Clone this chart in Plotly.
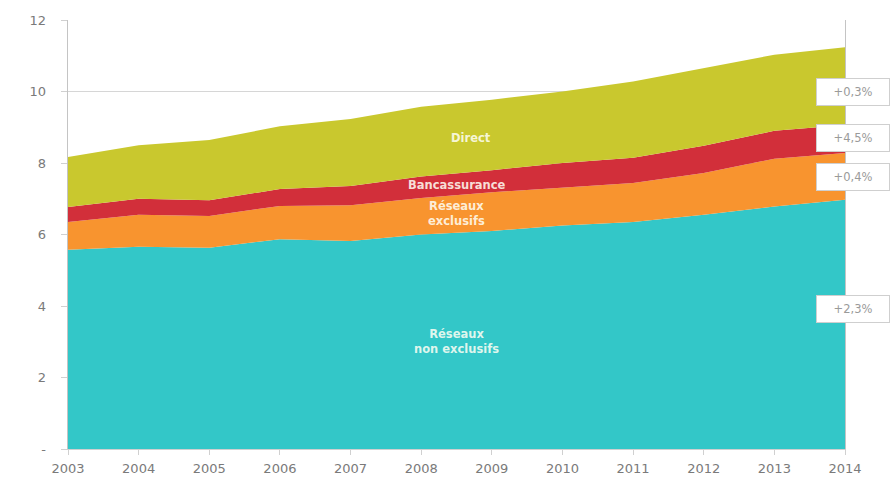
import plotly.graph_objects as go

# Years and stacked series (in billions)
years = [2003, 2004, 2005, 2006, 2007, 2008, 2009, 2010, 2011, 2012, 2013, 2014]
reseaux_non_exclusifs = [5.57, 5.66, 5.63, 5.87, 5.82, 6.00, 6.10, 6.25, 6.35, 6.55, 6.78, 6.97]
reseaux_exclusifs = [0.78, 0.89, 0.89, 0.93, 1.00, 1.02, 1.08, 1.07, 1.09, 1.17, 1.34, 1.31]
bancassurance = [0.42, 0.45, 0.44, 0.47, 0.54, 0.60, 0.62, 0.68, 0.71, 0.76, 0.78, 0.78]
direct = [1.40, 1.50, 1.68, 1.76, 1.87, 1.95, 1.97, 2.00, 2.13, 2.17, 2.13, 2.18]

series_names = ["Réseaux non exclusifs", "Réseaux exclusifs", "Bancassurance", "Direct"]
series_values = [reseaux_non_exclusifs, reseaux_exclusifs, bancassurance, direct]
series_colors = ["#33C7C8", "#F8942F", "#D22F3A", "#C9C82E"]

# In-area labels (text, year, value)
area_labels = [
    ("Direct", 2008.7, 8.7),
    ("Bancassurance", 2008.5, 7.38),
    ("Réseaux<br>exclusifs", 2008.5, 6.6),
    ("Réseaux<br>non exclusifs", 2008.5, 3.0),
]

# Growth rates shown at the right edge (text, value)
growth_labels = [("+0,3%", 10.0), ("+4,5%", 8.7), ("+0,4%", 7.6), ("+2,3%", 3.92)]

y_ticks = [0, 2, 4, 6, 8, 10, 12]
y_ticklabels = ["-", "2", "4", "6", "8", "10", "12"]

fig = go.Figure()
for name, vals, col in zip(series_names, series_values, series_colors):
    fig.add_trace(go.Scatter(
        x=years, y=vals, name=name, mode="lines",
        stackgroup="one", line=dict(width=0, color=col),
        fillcolor=col, hoverinfo="x+y+name",
    ))

for text, x, y in area_labels:
    fig.add_annotation(
        x=x, y=y, xref="x", yref="y", text=f"<b>{text}</b>",
        showarrow=False, font=dict(family="DejaVu Sans", size=11.5,
                                   color="rgba(255,255,245,0.85)"),
    )

for text, y in growth_labels:
    fig.add_annotation(
        x=0.963, y=y, xref="paper", yref="y", text=text,
        xanchor="left", yanchor="middle", showarrow=False,
        font=dict(family="DejaVu Sans", size=11.5, color="#9a9a9a"),
        bgcolor="white", bordercolor="#cfcfcf", borderwidth=1,
        borderpad=6, width=60, align="center",
    )

# pad the y labels away from the axis with non-breaking spaces
y_pad = "\u00a0" * 3

fig.update_layout(
    width=896, height=479,
    margin=dict(l=68, r=51, t=20, b=30),
    paper_bgcolor="white", plot_bgcolor="white",
    showlegend=False,
    font=dict(family="DejaVu Sans", size=13, color="#7a7a7a"),
    xaxis=dict(
        range=[2003, 2014], tickvals=years, ticktext=[str(y) for y in years],
        showgrid=False, zeroline=False, automargin=False,
        showline=True, linecolor="#d0d0d0", linewidth=1,
        ticks="outside", ticklen=5, tickcolor="#d0d0d0",
        ticklabelstandoff=2,
        tickfont=dict(size=13, color="#7a7a7a"),
    ),
    yaxis=dict(
        range=[0, 12], tickvals=y_ticks,
        ticktext=[t + y_pad for t in y_ticklabels],
        showgrid=True, gridcolor="#d6d6d6", gridwidth=1, zeroline=False,
        automargin=False,
        showline=True, linecolor="#c4c4c4", linewidth=1, mirror=True,
        ticks="outside", ticklen=6, tickcolor="#d0d0d0",
        tickfont=dict(size=13, color="#7a7a7a"),
    ),
)

fig.write_html("out.html")
